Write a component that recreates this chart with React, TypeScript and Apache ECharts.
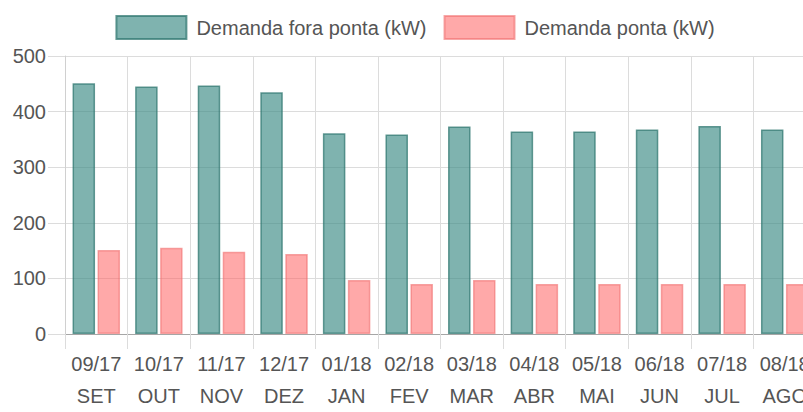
import React, { useEffect, useRef } from "react";
import * as echarts from "echarts";

const months = ["09/17", "10/17", "11/17", "12/17", "01/18", "02/18", "03/18", "04/18", "05/18", "06/18", "07/18", "08/18"];
const monthNames = ["SET", "OUT", "NOV", "DEZ", "JAN", "FEV", "MAR", "ABR", "MAI", "JUN", "JUL", "AGO"];
const foraPonta = [451, 445, 447, 435, 361, 359, 373, 364, 364, 368, 374, 368];
const ponta = [151, 155, 148, 144, 97, 90, 97, 90, 90, 90, 90, 90];
const yTicks = { min: 0, max: 500, interval: 100 };

const FONT = "Arial";

export default function App() {
  const ref = useRef<HTMLDivElement>(null);
  useEffect(() => {
    if (!ref.current) return;
    const chart = echarts.init(ref.current, undefined, { renderer: "svg" });
    const categories = months.map((m, i) => `${m}\n${monthNames[i]}`);
    chart.setOption({
      animation: false,
      textStyle: { fontFamily: FONT },
      legend: {
        top: 10,
        left: "center",
        icon: "rect",
        itemWidth: 70,
        itemHeight: 23,
        itemGap: 17,
        textStyle: { fontSize: 20, color: "#555", fontFamily: FONT, padding: [0, 0, 0, 5] },
        data: ["Demanda fora ponta (kW)", "Demanda ponta (kW)"],
      },
      grid: { left: 65, right: 14, top: 56, bottom: 73, containLabel: false },
      xAxis: {
        type: "category",
        data: categories,
        boundaryGap: true,
        axisLine: { show: true, lineStyle: { color: "#a6a6a6", width: 1 } },
        axisTick: { show: true, length: 15, lineStyle: { color: "#dcdcdc" } },
        splitLine: { show: true, lineStyle: { color: "#dcdcdc", width: 1 } },
        axisLabel: { fontSize: 20, color: "#555", lineHeight: 32, margin: 14, fontFamily: FONT, interval: 0 },
      },
      yAxis: {
        type: "value",
        min: yTicks.min,
        max: yTicks.max,
        interval: yTicks.interval,
        axisLine: { show: true, lineStyle: { color: "#d0d0d0" } },
        axisTick: { show: true, length: 17, lineStyle: { color: "#dcdcdc" } },
        splitLine: { show: true, lineStyle: { color: "#dcdcdc" } },
        axisLabel: { fontSize: 20, color: "#555", margin: 19, fontFamily: FONT },
      },
      series: [
        {
          name: "Demanda fora ponta (kW)",
          type: "bar",
          data: foraPonta,
          barWidth: 22.5,
          barGap: "11%",
          itemStyle: { color: "rgba(60,140,133,0.66)", borderColor: "rgba(50,120,114,0.75)", borderWidth: 1.5 },
        },
        {
          name: "Demanda ponta (kW)",
          type: "bar",
          data: ponta,
          barWidth: 22.5,
          barGap: "11%",
          itemStyle: { color: "rgba(255,99,99,0.55)", borderColor: "rgba(240,110,110,0.6)", borderWidth: 1.5 },
        },
      ],
    });
    return () => chart.dispose();
  }, []);
  return (
    <div style={{ position: "fixed", left: 0, top: 0, width: 803, height: 412, overflow: "hidden", background: "#fff" }}>
      <div ref={ref} style={{ width: 830, height: 412 }} />
    </div>
  );
}
